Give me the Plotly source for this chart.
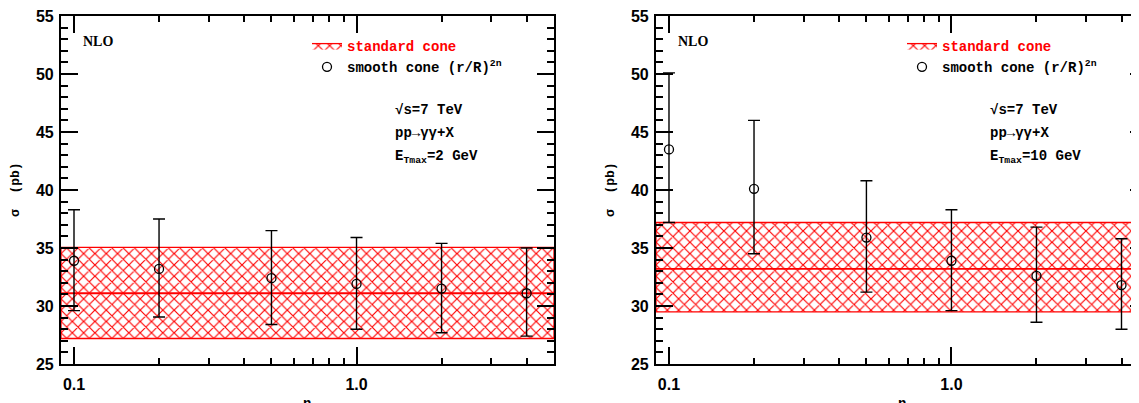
import numpy as np
import plotly.graph_objects as go

# screen offset of the figure inside the page (default body margin)
OFF = 8
SW, SH = 1139, 403
W, H = SW - OFF, SH - OFF
MT, MB = 16 - OFF, 39

# ---------------- data ----------------
n_vals = [0.1, 0.2, 0.5, 1.0, 2.0, 4.0]

# left panel: E_Tmax = 2 GeV
smooth_2 = [33.9, 33.2, 32.4, 31.9, 31.5, 31.1]
smooth_2_hi = [38.3, 37.5, 36.5, 35.9, 35.4, 35.0]
smooth_2_lo = [29.6, 29.05, 28.4, 28.0, 27.7, 27.4]
std_2 = 31.1
std_2_hi = 35.05
std_2_lo = 27.2

# right panel: E_Tmax = 10 GeV
smooth_10 = [43.5, 40.1, 35.9, 33.9, 32.6, 31.8]
smooth_10_hi = [50.1, 46.0, 40.8, 38.3, 36.8, 35.8]
smooth_10_lo = [37.2, 34.5, 31.2, 29.6, 28.6, 28.0]
std_10 = 33.2
std_10_hi = 37.2
std_10_lo = 29.5

y_ticks = [25, 30, 35, 40, 45, 50, 55]
x_ticks = [0.1, 1.0]
x_ticktext = ["0.1", "1.0"]
x_minor = [0.2, 0.3, 0.4, 0.5, 0.6, 0.7, 0.8, 0.9, 2, 3, 4]

XR_LEFT = [-1.046, 0.699]
XR_RIGHT = [-1.046, 0.664]

RED = "#ff0000"


def px(x):
    return (x - OFF) / W


def py(y):
    return (H - MB - (y - OFF)) / (H - MT - MB)


fig = go.Figure()


def add_panel(xa, ya, xr, val, hi, lo, c, c_hi, c_lo, legend, cw):
    x0, x1 = 10 ** xr[0], 10 ** xr[1]
    fig.add_trace(go.Scatter(
        x=[x0, x1, x1, x0, x0], y=[c_lo, c_lo, c_hi, c_hi, c_lo],
        xaxis=xa, yaxis=ya, mode="lines", fill="toself",
        fillcolor="white",
        fillpattern=dict(shape="x", fgcolor=RED, bgcolor="white", fgopacity=1, size=8, solidity=0.27),
        line=dict(color=RED, width=1.3),
        name="<span style='color:red'><b>standard cone</b></span>",
        legend=legend, hoverinfo="skip"))
    fig.add_trace(go.Scatter(
        x=[x0, x1], y=[c, c], xaxis=xa, yaxis=ya, mode="lines",
        line=dict(color=RED, width=cw), showlegend=False, hoverinfo="skip"))
    v = np.array(val)
    fig.add_trace(go.Scatter(
        x=n_vals, y=val, xaxis=xa, yaxis=ya, mode="markers",
        marker=dict(symbol="circle-open", size=9, color="black", line=dict(width=1.3, color="black")),
        error_y=dict(type="data", symmetric=False, array=np.array(hi) - v, arrayminus=v - np.array(lo),
                     color="black", thickness=1.4, width=6),
        name="<b>smooth cone (r/R)<sup>2n</sup></b>", legend=legend))


add_panel("x", "y", XR_LEFT, smooth_2, smooth_2_hi, smooth_2_lo, std_2, std_2_hi, std_2_lo, "legend", 2.2)
add_panel("x2", "y2", XR_RIGHT, smooth_10, smooth_10_hi, smooth_10_lo, std_10, std_10_hi, std_10_lo, "legend2", 1.6)
fig.add_trace(go.Scatter(x=[], y=[], xaxis="x2", yaxis="y3", showlegend=False))

tickfont = dict(family="Liberation Sans", size=16, color="black", weight="bold")

yax = dict(range=[25, 55], tickmode="array", tickvals=y_ticks, ticks="inside", ticklen=17, tickwidth=1.5,
           tickcolor="black", showline=True, linewidth=2.2, linecolor="black", showgrid=False, zeroline=False,
           minor=dict(dtick=1, tick0=25, ticks="inside", ticklen=7, tickwidth=1.5, tickcolor="black", showgrid=False),
           tickfont=tickfont, ticklabelstandoff=2, automargin=False, ticklabeloverflow="allow")
xax = dict(type="log", tickmode="array", tickvals=x_ticks, ticktext=x_ticktext, ticks="inside", ticklen=17,
           tickwidth=1.5, tickcolor="black", showline=True, linewidth=2.2, linecolor="black", showgrid=False,
           zeroline=False, mirror="ticks", automargin=False, ticklabeloverflow="allow",
           minor=dict(tickmode="array", tickvals=x_minor, ticks="inside", ticklen=6, tickwidth=1.5,
                      tickcolor="black", showgrid=False),
           tickfont=tickfont, ticklabelstandoff=5)

leg = dict(font=dict(family="Liberation Mono", size=14, color="black"), bgcolor="rgba(0,0,0,0)",
           borderwidth=0, traceorder="normal", xanchor="left", yanchor="top", tracegroupgap=0)

mono = dict(family="Liberation Mono", size=14, color="black", weight="bold")
annotations = []
for left, etext, ycx in [(61, "E<sub>Tmax</sub>=2 GeV", 15), (656, "E<sub>Tmax</sub>=10 GeV", 610)]:
    annotations += [
        dict(x=px(left + 20), y=py(42), text="NLO",
             font=dict(family="Liberation Serif", size=14, color="black", weight="bold"),
             xanchor="left", yanchor="middle"),
        dict(x=px(left + 332), y=py(110), text="√s=7 TeV", font=mono, xanchor="left", yanchor="middle"),
        dict(x=px(left + 332), y=py(133), text="pp→γγ+X", font=mono, xanchor="left", yanchor="middle"),
        dict(x=px(left + 332), y=py(157), text=etext, font=mono, xanchor="left", yanchor="middle"),
        dict(x=px(ycx), y=py(190), text="σ  (pb)", textangle=-90,
             font=dict(family="Liberation Mono", size=13, color="black", weight="bold"),
             xanchor="center", yanchor="middle"),
        dict(x=px(left + 246), y=py(394), text="n",
             font=dict(family="Liberation Mono", size=14, color="black", weight="bold"),
             xanchor="center", yanchor="top"),
    ]
for a in annotations:
    a.update(xref="paper", yref="paper", showarrow=False)

fig.update_layout(
    width=W, height=H, margin=dict(l=0, r=0, t=MT, b=MB, autoexpand=False),
    paper_bgcolor="white", plot_bgcolor="white",
    xaxis=dict(xax, domain=[px(61), px(554)], range=XR_LEFT, anchor="y"),
    yaxis=dict(yax, domain=[0, 1], anchor="x", mirror="ticks"),
    xaxis2=dict(xax, domain=[px(656), 1.0], range=XR_RIGHT, anchor="y2"),
    yaxis2=dict(yax, domain=[0, 1], anchor="x2", mirror=False),
    yaxis3=dict(range=[25, 55], overlaying="y2", anchor="x2", side="right", tickmode="array", tickvals=y_ticks,
                ticks="inside", ticklen=9, tickwidth=1.5, tickcolor="black", showline=False,
                showticklabels=False, showgrid=False, zeroline=False, automargin=False),
    legend=dict(leg, x=px(307), y=py(30)),
    legend2=dict(leg, x=px(902), y=py(30)),
    annotations=annotations,
    showlegend=True,
)

fig.write_html("out.html")
